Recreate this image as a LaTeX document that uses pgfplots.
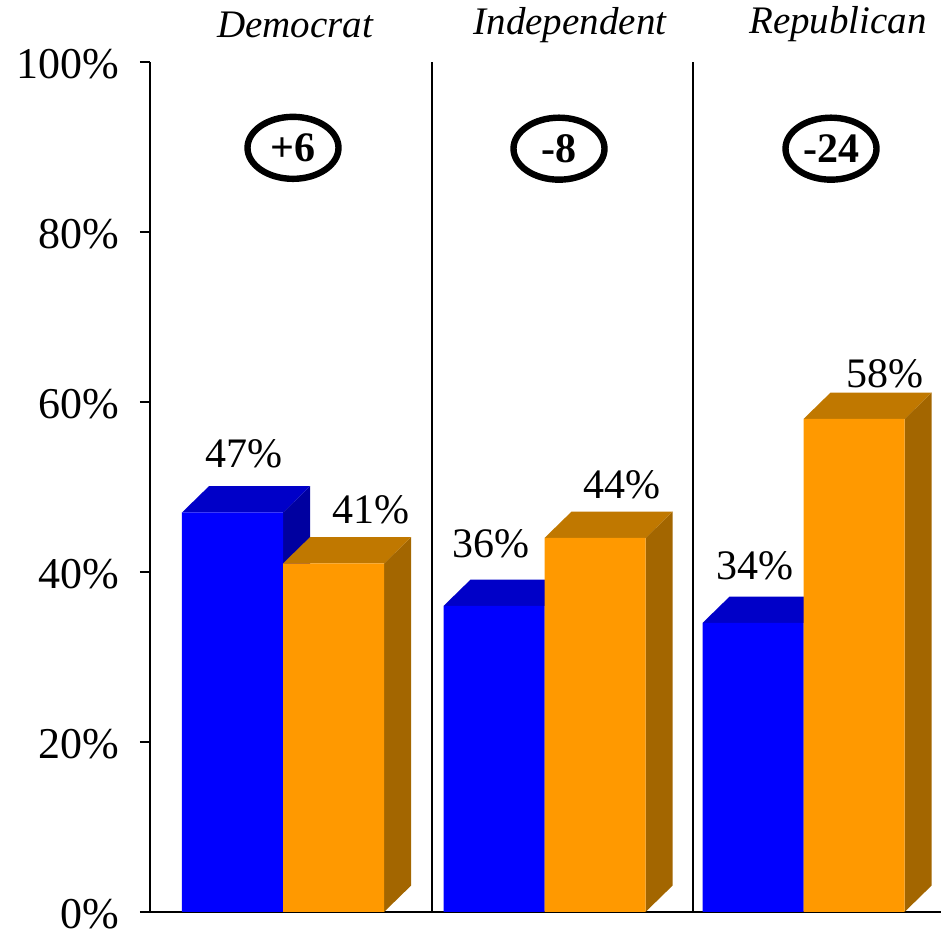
\documentclass[border=0pt]{standalone}
\usepackage{fontspec}
\setmainfont{Liberation Serif}
\usepackage{pgfplots}
\pgfplotsset{compat=1.18}
\usetikzlibrary{shapes.geometric}
\definecolor{bfront}{RGB}{0,0,255}
\definecolor{btop}{RGB}{0,0,200}
\definecolor{bside}{RGB}{0,0,160}
\definecolor{ofront}{RGB}{255,153,0}
\definecolor{otop}{RGB}{192,120,0}
\definecolor{oside}{RGB}{163,102,0}
\begin{document}
\begin{tikzpicture}
\path[use as bounding box] (-75pt,-11.5pt) rectangle (395.5pt,456pt);
\begin{axis}[
  scale only axis, width=395.5pt, height=425pt,
  xmin=0, xmax=791, ymin=0, ymax=100,
  clip=false,
  axis x line*=bottom, axis y line*=left,
  axis line style={line width=1pt},
  xtick=\empty,
  ytick={0,20,...,100},
  yticklabel={\pgfmathprintnumber{\tick}\%},
  /pgf/number format/assume math mode=true,
  tick align=outside, major tick length=5pt,
  tick style={line width=1pt, black},
  yticklabel style={font=\fontsize{22}{26}\selectfont, xshift=-7pt, yshift=-1pt},
]
% separators
\draw[line width=1pt] (axis cs:282,0) -- (axis cs:282,100);
\draw[line width=1pt] (axis cs:543,0) -- (axis cs:543,100);
% ---------- blue (Democrat, Independent, Republican) ----------
\addplot[fill=bside, draw=none] coordinates {(133,0)(160,3.1)(160,50.1)(133,47)} -- cycle;
\addplot[fill=btop, draw=none] coordinates {(32,47)(59,50.1)(160,50.1)(133,47)} -- cycle;
\addplot[fill=bside, draw=none] coordinates {(394.5,0)(421.5,3.1)(421.5,39.1)(394.5,36)} -- cycle;
\addplot[fill=btop, draw=none] coordinates {(293.5,36)(320.5,39.1)(421.5,39.1)(394.5,36)} -- cycle;
\addplot[fill=bside, draw=none] coordinates {(653.5,0)(680.5,3.1)(680.5,37.1)(653.5,34)} -- cycle;
\addplot[fill=btop, draw=none] coordinates {(552.5,34)(579.5,37.1)(680.5,37.1)(653.5,34)} -- cycle;
\addplot[ybar, bar width=101, bar shift=0pt, fill=bfront, draw=none]
  coordinates {(82.5,47) (344,36) (603,34)};
% ---------- orange ----------
\addplot[fill=oside, draw=none] coordinates {(234,0)(261,3.1)(261,44.1)(234,41)} -- cycle;
\addplot[fill=otop, draw=none] coordinates {(133,41)(160,44.1)(261,44.1)(234,41)} -- cycle;
\addplot[fill=oside, draw=none] coordinates {(495.5,0)(522.5,3.1)(522.5,47.1)(495.5,44)} -- cycle;
\addplot[fill=otop, draw=none] coordinates {(394.5,44)(421.5,47.1)(522.5,47.1)(495.5,44)} -- cycle;
\addplot[fill=oside, draw=none] coordinates {(754.5,0)(781.5,3.1)(781.5,61.1)(754.5,58)} -- cycle;
\addplot[fill=otop, draw=none] coordinates {(653.5,58)(680.5,61.1)(781.5,61.1)(754.5,58)} -- cycle;
\addplot[ybar, bar width=101, bar shift=0pt, fill=ofront, draw=none]
  coordinates {(183.5,41) (445,44) (704,58)};
% ---------- value labels ----------
\addplot[draw=none, mark=none, point meta=explicit,
  nodes near coords={\pgfmathprintnumber{\pgfplotspointmeta}\%},
  nodes near coords align={center},
  every node near coord/.append style={anchor=base, inner sep=0pt,
     font=\fontsize{21}{25}\selectfont}]
  coordinates {(93.5,52.35) [47] (220.5,45.76) [41] (340.5,41.65) [36]
               (471.5,48.7) [44] (604.5,39.06) [34] (734.5,61.65) [58]};
% ---------- difference ellipses ----------
\node[draw, ellipse, line width=3.2pt, minimum width=45.5pt, minimum height=31pt, inner sep=0pt,
  font=\bfseries\fontsize{21}{25}\selectfont] at (axis cs:143,89.9) {+6};
\node[draw, ellipse, line width=3.2pt, minimum width=45.5pt, minimum height=31pt, inner sep=0pt,
  font=\bfseries\fontsize{21}{25}\selectfont] at (axis cs:409,89.8) {-8};
\node[draw, ellipse, line width=3.2pt, minimum width=45.5pt, minimum height=31pt, inner sep=0pt,
  font=\bfseries\fontsize{21}{25}\selectfont] at (axis cs:681,89.8) {-24};
% ---------- category labels ----------
\node[anchor=base, font=\itshape\fontsize{19.5}{23}\selectfont] at (axis cs:145,102.9) {Democrat};
\node[anchor=base, font=\itshape\fontsize{19.5}{23}\selectfont] at (axis cs:420,103.2) {Independent};
\node[anchor=base, font=\itshape\fontsize{19.5}{23}\selectfont] at (axis cs:688,103.4) {Republican};
\end{axis}
\end{tikzpicture}
\end{document}
